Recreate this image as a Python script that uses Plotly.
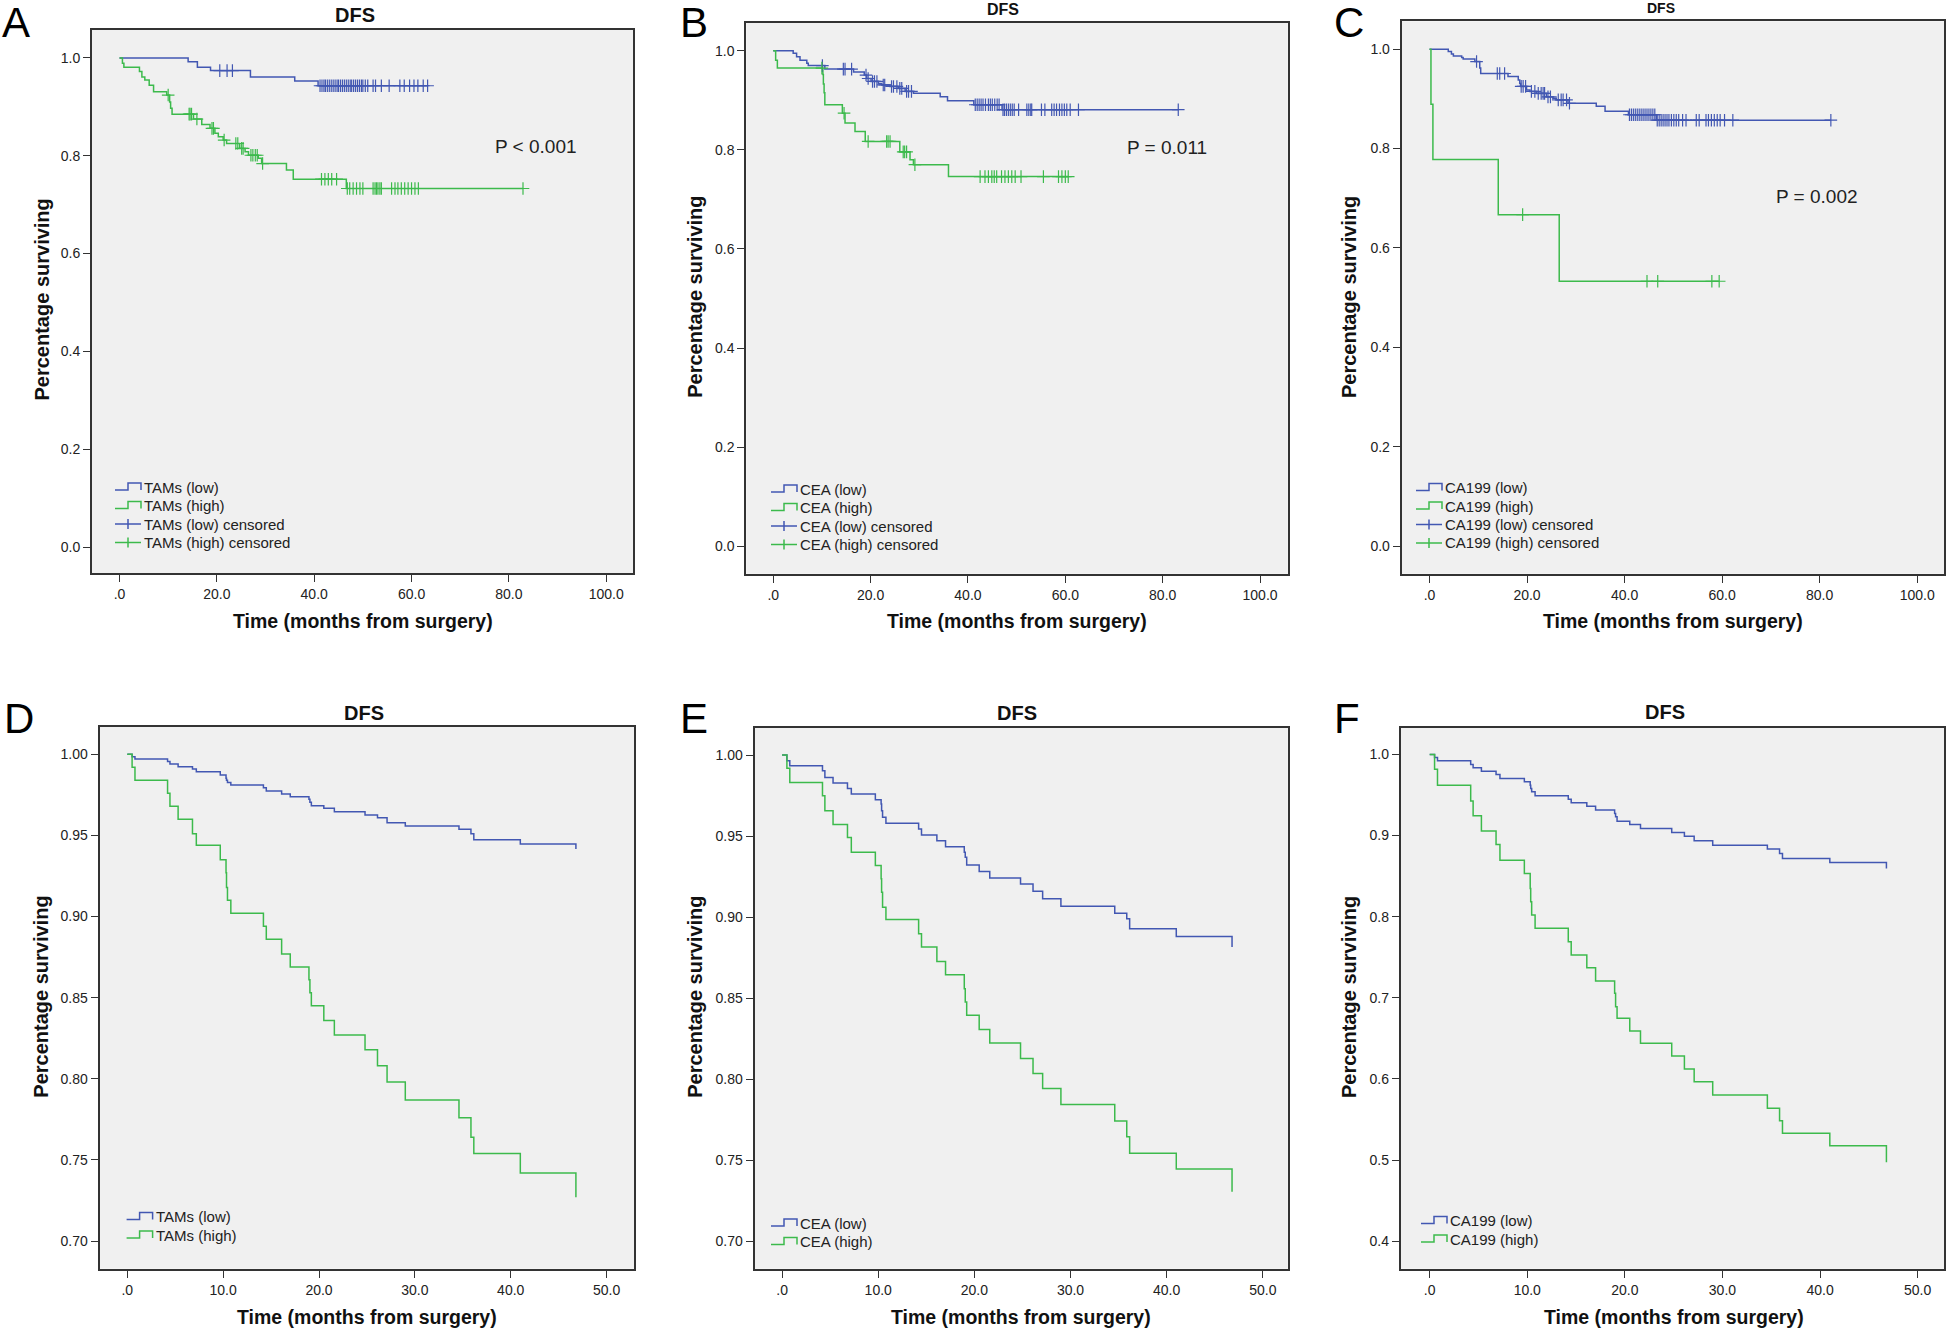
import numpy as np
import plotly.graph_objects as go

W, H = 1946, 1332
FONT = "Liberation Sans, Arial, sans-serif"
BLUE = "#4257b2"
GREEN = "#3cba4c"

# ---------------- DATA ----------------
# Panel A: TAMs (Kaplan-Meier)
A_low_t = [14.1, 16.0, 18.7, 26.9, 36.0, 40.8]
A_low_s = [0.992, 0.981, 0.974, 0.961, 0.953, 0.943]
A_low_c = [20.6, 22.1, 23.2, 41.2, 41.6, 42.0, 42.3, 42.7, 43.1, 43.5, 43.9, 44.3, 44.7, 45.0,
           45.4, 45.8, 46.2, 46.6, 47.0, 47.4, 47.7, 48.1, 48.5, 48.9, 49.3, 49.7, 50.0, 50.5,
           51.0, 52.1, 52.6, 53.8, 55.4, 57.6, 58.5, 59.6, 60.5, 61.3, 62.4, 63.3]
A_high_t = [0.6, 0.9, 4.1, 4.6, 5.2, 6.1, 7.0, 9.7, 10.3, 10.5, 10.8, 15.2, 16.9, 18.6, 19.6,
            20.3, 21.3, 22.0, 24.7, 25.8, 26.5, 28.5, 29.2, 34.3, 35.7, 46.6]
A_high_s = [0.989, 0.981, 0.972, 0.961, 0.955, 0.944, 0.931, 0.924, 0.910, 0.897, 0.885, 0.875,
            0.864, 0.856, 0.846, 0.839, 0.832, 0.825, 0.815, 0.808, 0.801, 0.795, 0.784, 0.771,
            0.752, 0.733]
A_high_c = [10.0, 14.3, 14.5, 14.8, 15.9, 19.0, 19.3, 21.5, 23.9, 24.3, 25.1, 25.4, 27.0, 27.4,
            27.9, 28.3, 29.4, 41.5, 42.2, 42.9, 43.6, 44.6, 46.8, 47.3, 48.0, 48.7, 49.4, 50.0,
            52.1, 52.5, 52.8, 53.1, 53.5, 53.8, 55.9, 56.6, 57.2, 57.9, 58.6, 59.3, 60.0, 60.7,
            61.4, 82.9]

# Panel B: CEA (Kaplan-Meier)
B_low_t = [4.1, 4.8, 5.5, 6.9, 7.2, 10.6, 16.5, 18.7, 19.2, 20.1, 21.6, 22.3, 24.0, 25.7, 27.1,
           28.8, 34.3, 35.8, 41.2, 47.0]
B_low_s = [0.995, 0.988, 0.981, 0.975, 0.970, 0.963, 0.957, 0.951, 0.944, 0.938, 0.934, 0.931,
           0.928, 0.924, 0.918, 0.914, 0.907, 0.899, 0.891, 0.881]
B_low_c = [10.1, 14.4, 14.75, 16.1, 19.06, 19.5, 20.4, 20.8, 21.3, 22.6, 22.9, 24.3, 24.7, 25.4,
           26.0, 26.4, 27.4, 27.8, 28.4, 41.5, 41.9, 42.3, 42.7, 43.1, 43.6, 44.2, 44.6, 45.0,
           45.5, 46.0, 46.4, 47.2, 47.5, 47.9, 48.3, 48.7, 49.1, 49.5, 50.4, 52.1, 52.5, 52.9,
           53.1, 55.1, 55.8, 57.2, 57.7, 58.2, 58.8, 59.3, 59.8, 60.3, 61.0, 62.7, 83.2]
B_high_t = [0.5, 0.85, 10.2, 10.3, 10.45, 10.6, 14.2, 14.75, 16.8, 18.9, 26.0, 28.1, 28.8, 36.0]
B_high_s = [0.981, 0.965, 0.952, 0.933, 0.915, 0.891, 0.874, 0.854, 0.837, 0.817, 0.796, 0.780,
            0.770, 0.746]
B_high_c = [10.0, 14.55, 19.5, 23.3, 23.6, 24.0, 26.7, 27.0, 27.4, 29.1, 42.5, 43.5, 44.2, 44.9,
            45.4, 45.9, 46.9, 47.6, 48.3, 49.0, 49.7, 50.9, 55.5, 58.6, 59.3, 60.0, 60.6]

# Panel C: CA199 (Kaplan-Meier)
C_low_t = [3.85, 4.5, 4.9, 6.6, 6.9, 9.3, 10.3, 10.5, 16.1, 18.2, 18.5, 18.7, 19.9, 20.6, 21.9,
           24.0, 25.3, 26.0, 28.4, 34.2, 36.0, 40.8, 46.5]
C_low_s = [0.995, 0.990, 0.986, 0.983, 0.980, 0.975, 0.962, 0.951, 0.945, 0.938, 0.931, 0.925,
           0.918, 0.915, 0.911, 0.904, 0.901, 0.898, 0.891, 0.885, 0.875, 0.868, 0.857]
C_low_c = [9.65, 13.9, 14.4, 15.4, 18.8, 19.2, 19.7, 20.9, 21.6, 22.3, 22.9, 23.3, 23.6, 24.3,
           24.8, 26.4, 27.0, 27.4, 28.1, 28.7, 41.0, 41.4, 41.8, 42.2, 42.6, 43.0, 43.4, 43.8,
           44.2, 44.6, 45.0, 45.4, 45.8, 46.2, 46.7, 47.1, 47.5, 47.9, 48.3, 48.7, 49.1, 49.6,
           50.1, 50.6, 51.1, 51.9, 52.6, 54.7, 55.3, 56.7, 57.2, 57.8, 58.4, 59.0, 59.6, 60.5,
           62.2, 82.3]
C_high_t = [0.3, 0.7, 14.1, 26.6]
C_high_s = [0.889, 0.778, 0.667, 0.533]
C_high_c = [19.1, 44.6, 46.8, 57.9, 59.4]

# Panels D-F: Cox-model survival functions (shared event times)
T_cox = [0.5, 0.8, 4.2, 4.45, 5.3, 6.8, 7.2, 9.7, 10.3, 10.35, 10.45, 10.8, 14.2, 14.5, 16.1,
         17.0, 18.95, 19.05, 19.2, 20.5, 21.6, 24.8, 26.1, 27.1, 29.0, 34.6, 35.85, 36.15, 41.0, 46.8]
D_low_s = [0.9985, 0.9971, 0.9955, 0.9940, 0.9924, 0.9909, 0.9893, 0.9872, 0.9852, 0.9840,
           0.9827, 0.9811, 0.9794, 0.9774, 0.9755, 0.9739, 0.9723, 0.9704, 0.9683, 0.9667,
           0.9646, 0.9626, 0.9609, 0.9579, 0.9558, 0.9538, 0.9510, 0.9474, 0.9447, 0.9417]
D_high_s = [0.992, 0.984, 0.976, 0.968, 0.960, 0.951, 0.944, 0.935, 0.927, 0.918, 0.910, 0.902,
            0.894, 0.886, 0.877, 0.869, 0.861, 0.853, 0.845, 0.836, 0.827, 0.818, 0.808, 0.798,
            0.787, 0.776, 0.764, 0.754, 0.742, 0.727]
E_low_s = [0.9965, 0.9934, 0.9903, 0.9862, 0.9827, 0.9794, 0.9760, 0.9725, 0.9698, 0.9657,
           0.9616, 0.9579, 0.9544, 0.9507, 0.9472, 0.9435, 0.9400, 0.9369, 0.9322, 0.9281,
           0.9242, 0.9205, 0.9160, 0.9113, 0.9067, 0.9024, 0.8990, 0.8928, 0.8880, 0.8815]
E_high_s = [0.9918, 0.9831, 0.9749, 0.9657, 0.9571, 0.9492, 0.9400, 0.9318, 0.9236, 0.9154,
            0.9061, 0.8985, 0.8897, 0.8815, 0.8726, 0.8644, 0.8558, 0.8476, 0.8394, 0.8306,
            0.8223, 0.8127, 0.8034, 0.7942, 0.7843, 0.7741, 0.7644, 0.7542, 0.7445, 0.7305]
F_low_s = [0.9963, 0.9922, 0.9876, 0.9835, 0.9794, 0.9753, 0.9704, 0.9663, 0.9622, 0.9581,
           0.9540, 0.9490, 0.9449, 0.9404, 0.9363, 0.9314, 0.9273, 0.9231, 0.9178, 0.9137,
           0.9088, 0.9038, 0.8993, 0.8936, 0.8882, 0.8833, 0.8780, 0.8718, 0.8669, 0.8595]
F_high_s = [0.9819, 0.9622, 0.9425, 0.9244, 0.9055, 0.8891, 0.8697, 0.8533, 0.8349, 0.8184,
            0.8020, 0.7856, 0.7691, 0.7527, 0.7371, 0.7206, 0.7055, 0.6890, 0.6747, 0.6590,
            0.6439, 0.6282, 0.6122, 0.5966, 0.5802, 0.5638, 0.5485, 0.5330, 0.5177, 0.4972]

# Tick labels
XT_100 = [0, 20, 40, 60, 80, 100]
XL_100 = [".0", "20.0", "40.0", "60.0", "80.0", "100.0"]
XT_50 = [0, 10, 20, 30, 40, 50]
XL_50 = [".0", "10.0", "20.0", "30.0", "40.0", "50.0"]
YT_1 = [0.0, 0.2, 0.4, 0.6, 0.8, 1.0]
YL_1 = ["0.0", "0.2", "0.4", "0.6", "0.8", "1.0"]
YT_07 = [0.70, 0.75, 0.80, 0.85, 0.90, 0.95, 1.00]
YL_07 = ["0.70", "0.75", "0.80", "0.85", "0.90", "0.95", "1.00"]
YT_04 = [0.4, 0.5, 0.6, 0.7, 0.8, 0.9, 1.0]
YL_04 = ["0.4", "0.5", "0.6", "0.7", "0.8", "0.9", "1.0"]

# ---------------- LAYOUT GEOMETRY (pixels) ----------------
panels = [
    dict(letter="A", name="TAMs", frame=(92, 633, 30, 573), xr=(-5.65, 105.5), yr=(-0.053, 1.057),
         xt=(XT_100, XL_100), yt=(YT_1, YL_1), km=True,
         low=(A_low_t, A_low_s, A_low_c), high=(A_high_t, A_high_s, A_high_c),
         pval="P < 0.001", ppos=(76.7, 0.818), title=(355, 15, 20), ytitle=(41.5, 300),
         xtitle=(363, 621), leg=(115, 487), lett=(0, 22)),
    dict(letter="B", name="CEA", frame=(746.3, 1287.8, 22.5, 573.8), xr=(-5.53, 105.7), yr=(-0.0555, 1.057),
         xt=(XT_100, XL_100), yt=(YT_1, YL_1), km=True,
         low=(B_low_t, B_low_s, B_low_c), high=(B_high_t, B_high_s, B_high_c),
         pval="P = 0.011", ppos=(72.3, 0.805), title=(1003, 9, 16), ytitle=(694.8, 297),
         xtitle=(1017, 621), leg=(771, 489), lett=(678, 22)),
    dict(letter="C", name="CA199", frame=(1401.7, 1944, 21.3, 573.8), xr=(-5.7, 105.5), yr=(-0.0555, 1.056),
         xt=(XT_100, XL_100), yt=(YT_1, YL_1), km=True,
         low=(C_low_t, C_low_s, C_low_c), high=(C_high_t, C_high_s, C_high_c),
         pval="P = 0.002", ppos=(70.7, 0.703), title=(1661, 8, 14), ytitle=(1349, 297),
         xtitle=(1673, 621), leg=(1416, 487.5), lett=(1332, 22)),
    dict(letter="D", name="TAMs", frame=(99.6, 634, 726.9, 1268.7), xr=(-2.89, 52.86), yr=(0.683, 1.0169),
         xt=(XT_50, XL_50), yt=(YT_07, YL_07), km=False,
         low=(T_cox, D_low_s, None), high=(T_cox, D_high_s, None),
         title=(364, 712.5, 20), ytitle=(40.7, 997), xtitle=(366.5, 1317), leg=(126.6, 1216.5),
         lett=(2, 718)),
    dict(letter="E", name="CEA", frame=(754.6, 1287.8, 727.7, 1268.7), xr=(-2.86, 52.6), yr=(0.683, 1.0169),
         xt=(XT_50, XL_50), yt=(YT_07, YL_07), km=False,
         low=(T_cox, E_low_s, None), high=(T_cox, E_high_s, None),
         title=(1017, 712.5, 20), ytitle=(694.8, 997), xtitle=(1021, 1317), leg=(771, 1223),
         lett=(678, 718)),
    dict(letter="F", name="CA199", frame=(1400.8, 1944, 727.7, 1268.7), xr=(-2.96, 52.7), yr=(0.366, 1.033),
         xt=(XT_50, XL_50), yt=(YT_04, YL_04), km=False,
         low=(T_cox, F_low_s, None), high=(T_cox, F_high_s, None),
         title=(1665, 712, 20), ytitle=(1349, 997), xtitle=(1674, 1317), leg=(1421, 1220.5),
         lett=(1332, 718)),
]
LEG_ROW = 18.5


def px(x):
    return x / W


def py(y):
    return 1 - y / H


def step_xy(t, s, extend_to=None):
    xs = [0.0] + list(t)
    ys = [1.0] + list(s)
    if extend_to is not None and extend_to > xs[-1]:
        xs.append(extend_to)
        ys.append(s[-1])
    return xs, ys


def level_at(t, s, c):
    t = np.asarray(t)
    s = np.asarray(s)
    idx = np.searchsorted(t, np.asarray(c), side="right")
    return np.where(idx == 0, 1.0, s[np.maximum(idx - 1, 0)])


def icon_path(kind, x0, yc):
    if kind == "step":
        pts = [(x0, yc + 3), (x0 + 13, yc + 3), (x0 + 13, yc - 4), (x0 + 26, yc - 4), (x0 + 26, yc + 3)]
        return "M " + " L ".join(f"{px(a):.6f},{py(b):.6f}" for a, b in pts)
    return (f"M {px(x0):.6f},{py(yc):.6f} L {px(x0 + 26):.6f},{py(yc):.6f} "
            f"M {px(x0 + 13):.6f},{py(yc - 5):.6f} L {px(x0 + 13):.6f},{py(yc + 5):.6f}")


fig = go.Figure()
layout = dict(width=W, height=H, margin=dict(l=0, r=0, t=0, b=0), paper_bgcolor="white",
              plot_bgcolor="#F0F0F0", showlegend=False, font=dict(family=FONT, color="#222"))
annotations = []
shapes = []

for i, p in enumerate(panels, start=1):
    xa = "xaxis" if i == 1 else f"xaxis{i}"
    ya = "yaxis" if i == 1 else f"yaxis{i}"
    xref = "x" if i == 1 else f"x{i}"
    yref = "y" if i == 1 else f"y{i}"
    l, r, t, b = p["frame"]
    axis_common = dict(showline=True, linecolor="#333", linewidth=2, mirror=True, ticks="outside",
                       ticklen=7, tickwidth=1, tickcolor="#333", showgrid=False, zeroline=False,
                       tickfont=dict(family=FONT, size=14, color="#222"), tickmode="array")
    layout[xa] = dict(axis_common, domain=[px(l), px(r)], range=list(p["xr"]), anchor=yref,
                      tickvals=p["xt"][0], ticktext=p["xt"][1])
    layout[ya] = dict(axis_common, domain=[py(b), py(t)], range=list(p["yr"]), anchor=xref,
                      tickvals=p["yt"][0], ticktext=p["yt"][1])

    groups = [("low", BLUE), ("high", GREEN)]
    for key, col in groups:
        tt, ss, cc = p[key]
        ext = max(cc) if (cc is not None and len(cc)) else None
        xs, ys = step_xy(tt, ss, ext)
        fig.add_trace(go.Scatter(x=xs, y=ys, mode="lines", line=dict(color=col, width=1.5, shape="hv"),
                                 name=f"{p['name']} ({key})", xaxis=xref, yaxis=yref, hoverinfo="skip"))
    entries = [("step", BLUE, f"{p['name']} (low)"), ("step", GREEN, f"{p['name']} (high)")]
    if p["km"]:
        for key, col in groups:
            tt, ss, cc = p[key]
            fig.add_trace(go.Scatter(x=cc, y=level_at(tt, ss, cc), mode="markers",
                                     marker=dict(symbol="cross-thin", size=9, color=col,
                                                 line=dict(color=col, width=1.2)),
                                     name=f"{p['name']} ({key}) censored", xaxis=xref, yaxis=yref,
                                     hoverinfo="skip"))
        entries += [("cens", BLUE, f"{p['name']} (low) censored"),
                    ("cens", GREEN, f"{p['name']} (high) censored")]
        annotations.append(dict(text=p["pval"], x=p["ppos"][0], y=p["ppos"][1], xref=xref, yref=yref,
                                xanchor="left", yanchor="middle", showarrow=False,
                                font=dict(family=FONT, size=19, color="#222")))

    # legend (drawn in the SPSS style)
    x0, y0 = p["leg"]
    for k, (kind, col, label) in enumerate(entries):
        yc = y0 + k * LEG_ROW
        shapes.append(dict(type="path", path=icon_path(kind, x0, yc), xref="paper", yref="paper",
                           line=dict(color=col, width=1.5)))
        annotations.append(dict(text=label, x=px(x0 + 27), y=py(yc), xref="paper", yref="paper",
                                xanchor="left", yanchor="middle", showarrow=False,
                                font=dict(family=FONT, size=15, color="#222")))

    # panel title
    annotations.append(dict(text="<b>DFS</b>", x=px(p["title"][0]), y=py(p["title"][1]), xref="paper",
                            yref="paper", xanchor="center", yanchor="middle", showarrow=False,
                            font=dict(family=FONT, size=p["title"][2], color="#111")))
    # axis titles
    annotations.append(dict(text="<b>Time (months from surgery)</b>", x=px(p["xtitle"][0]),
                            y=py(p["xtitle"][1]), xref="paper", yref="paper", xanchor="center",
                            yanchor="middle", showarrow=False,
                            font=dict(family=FONT, size=19.5, color="#111")))
    annotations.append(dict(text="<b>Percentage surviving</b>", x=px(p["ytitle"][0]),
                            y=py(p["ytitle"][1]), xref="paper", yref="paper", xanchor="center",
                            yanchor="middle", textangle=-90, showarrow=False,
                            font=dict(family=FONT, size=20, color="#111")))
    # panel letter
    annotations.append(dict(text=p["letter"], x=px(p["lett"][0]), y=py(p["lett"][1]), xref="paper",
                            yref="paper", xanchor="left", yanchor="middle", showarrow=False,
                            font=dict(family=FONT, size=42, color="#000")))

layout["annotations"] = annotations
layout["shapes"] = shapes
fig.update_layout(**layout)
fig.write_html("out.html", config={"displayModeBar": False},
               post_script="document.body.style.margin='0';document.body.style.overflow='hidden';")
